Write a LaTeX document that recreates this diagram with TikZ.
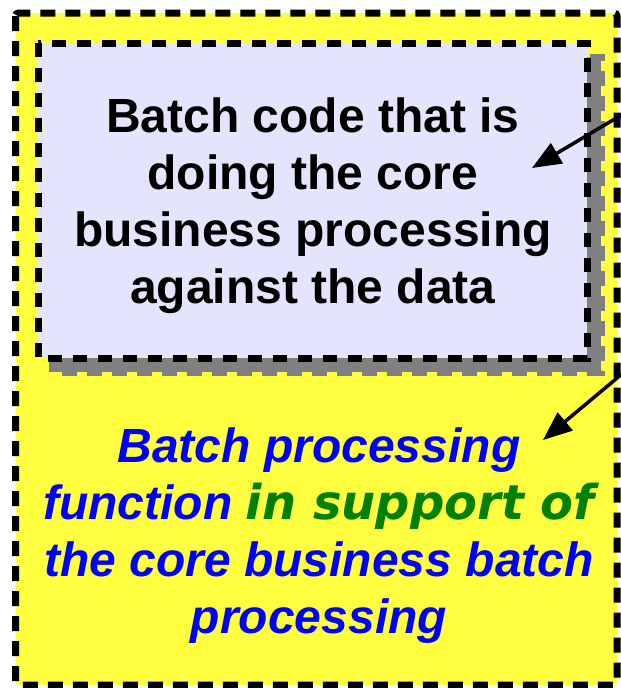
\documentclass[tikz,border=0pt]{standalone}
\usepackage{fontspec}
\setmainfont{Liberation Sans}
\newfontfamily\widefont{DejaVu Sans}
\usetikzlibrary{arrows.meta}
\definecolor{padyellow}{RGB}{255,255,64}
\definecolor{corelav}{RGB}{228,228,252}
\definecolor{shadowgray}{RGB}{128,128,128}
\definecolor{fnblue}{RGB}{0,0,255}
\definecolor{fngreen}{RGB}{0,128,0}
\tikzset{
  dashedframe/.style={line width=7pt, dash pattern=on 15pt off 10pt},
  pointer/.style={line width=3.5pt, -{Triangle[length=29pt,width=23pt]}},
  bigtext/.style={inner sep=0pt, align=center, font=\bfseries\fontsize{48}{57}\selectfont},
}
\begin{document}
\begin{tikzpicture}[x=1pt,y=-1pt]
\useasboundingbox (0,0) rectangle (621,688);
% outer supporting-function area
\fill[white] (0,0) rectangle (621,688);
\draw[dashedframe, fill=padyellow, rounded corners=3pt] (15.5,13) rectangle (617,685);
% shadow of the core box
\fill[shadowgray] (52,57) rectangle (601,372);
\draw[dashedframe, shadowgray] (52,57) rectangle (601,372);
% core batch box
\draw[dashedframe, fill=corelav, dash pattern=on 14pt off 11pt] (38,43) rectangle (587,358);
\node[bigtext] (core) at (313,206) {Batch code that is\\doing the core\\business processing\\against the data};
\node[bigtext, font=\bfseries\itshape\fontsize{48}{57}\selectfont, text=fnblue] (support) at (319,536)
  {Batch processing\\function {\widefont\textcolor{fngreen}{in support of}}\\the core business batch\\processing};
% pointers
\coordinate (p1) at (635,107);
\coordinate (t1) at (532,168);
\coordinate (p2) at (635,363);
\coordinate (t2) at (543,440);
\draw[pointer] (p1) -- (t1);
\draw[pointer] (p2) -- (t2);
\end{tikzpicture}
\end{document}
